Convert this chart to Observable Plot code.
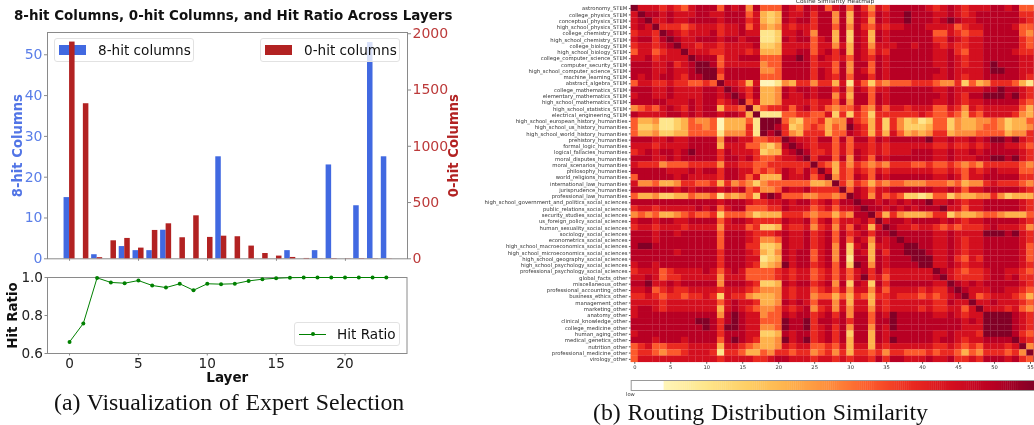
<!DOCTYPE html>
<html><head><meta charset="utf-8">
<script src="https://cdn.jsdelivr.net/npm/d3@7"></script>
<script src="https://cdn.jsdelivr.net/npm/@observablehq/plot@0.6"></script>
<style>
html,body{margin:0;padding:0;background:#fff;overflow:hidden;width:1034px;height:425px}
#root{position:relative;width:1034px;height:425px;overflow:hidden;font-family:"DejaVu Sans",sans-serif;filter:blur(0.3px)}
#root>svg,.abs{position:absolute}
#root svg{max-width:none;background:transparent}
.legend{position:absolute;background:rgba(255,255,255,.8);border:1px solid #e2e2e2;border-radius:3px;box-sizing:border-box;font-size:13.6px;color:#111}
.legend span{position:absolute;white-space:nowrap;line-height:16px}
.legend i{position:absolute;display:block}
.cap{position:absolute;font-family:"Liberation Serif",serif;font-size:23.8px;word-spacing:.8px;white-space:nowrap;color:#111;line-height:26px}
</style></head><body><div id="root"></div>
<script>
const layers = d3.range(0, 24);
const eightHit = [15,0,1,0,3,2,2,7,0,0,0,25,0,0,0,0,2,0,2,23,0,13,53,25];
const zeroHit = [1926,1378,10,160,181,95,252,311,187,382,190,201,196,113,47,24,12,3,1,2,1,2,1,1];
const hitRatio = [.661,.758,.998,.974,.970,.984,.958,.947,.967,.933,.967,.965,.967,.982,.991,.996,.999,1,1,1,1,1,1,1];
const xTicks = [0,5,10,15,20];

const tasks = ["astronomy_STEM","college_physics_STEM","conceptual_physics_STEM","high_school_physics_STEM","college_chemistry_STEM","high_school_chemistry_STEM","college_biology_STEM","high_school_biology_STEM","college_computer_science_STEM","computer_security_STEM","high_school_computer_science_STEM","machine_learning_STEM","abstract_algebra_STEM","college_mathematics_STEM","elementary_mathematics_STEM","high_school_mathematics_STEM","high_school_statistics_STEM","electrical_engineering_STEM","high_school_european_history_humanities","high_school_us_history_humanities","high_school_world_history_humanities","prehistory_humanities","formal_logic_humanities","logical_fallacies_humanities","moral_disputes_humanities","moral_scenarios_humanities","philosophy_humanities","world_religions_humanities","international_law_humanities","jurisprudence_humanities","professional_law_humanities","high_school_government_and_politics_social_sciences","public_relations_social_sciences","security_studies_social_sciences","us_foreign_policy_social_sciences","human_sexuality_social_sciences","sociology_social_sciences","econometrics_social_sciences","high_school_macroeconomics_social_sciences","high_school_microeconomics_social_sciences","high_school_geography_social_sciences","high_school_psychology_social_sciences","professional_psychology_social_sciences","global_facts_other","miscellaneous_other","professional_accounting_other","business_ethics_other","management_other","marketing_other","anatomy_other","clinical_knowledge_other","college_medicine_other","human_aging_other","medical_genetics_other","nutrition_other","professional_medicine_other","virology_other"];

// Similarity level (0 pale .. 9 dark) read per cell; upper triangle, each row starts at its diagonal.
const simRows = [
"9777676578 8858784855 5876878578 5864768888 8767876777 8878555",
"988787778 8778885732 3877868848 3875878898 8877876788 8888667",
"97787788 8878886732 3878868848 3874878898 8878987788 8888767",
"9666567 7767785743 4767768858 4865767788 8777756778 8887557",
"987677 7867787711 2778748838 2873878888 8855765668 8888547",
"98778 8878878811 2878857838 2873878888 8866876778 8888657",
"9776 7767777822 3777757747 3874777887 8876766778 8888657",
"977 7667776733 3778857868 3875768888 8877865778 8887667",
"98 8857788855 5889868767 5876878888 8877876778 8888777",
"9 9857777745 5888867758 4885878888 8877876778 9888777",
"9968888844 5888868758 4875878888 8887877778 9988777",
"958888855 5888868768 5886878888 8877876778 8888767",
"97763700 1436646637 1752545556 6654462534 6665316",
"9876833 4878878868 4875778888 8877877778 8988767",
"986833 4877878847 3885878888 8887876889 9989767",
"95733 4777767758 4885878888 8877876778 8888657",
"9356 6757867545 5754757767 7755764767 7777537",
"911 1556655726 2652666666 7655653657 7776436",
"99 9532556344 8653626423 1255243344 5423356",
"9 8623565354 9763626422 2355243345 5423347",
"9643666355 8763637534 3466344455 5534468",
"987768858 5886878888 8977877878 9989768",
"98767757 5776767777 7766766767 8877657",
"9866757 5876767778 8877877878 8888767",
"968858 4875878888 8877877788 9989767",
"96536 4654546665 5655654546 6666546",
"9736 5765767777 7766765767 8777557",
"946 5875878888 8877875778 8888667",
"96 4653545544 4555453446 7666546",
"9 5875778888 8877875778 8888767",
"9874756522 1255243344 6423336",
"988787878 8977876778 8888767",
"98878787 8889775778 8888767",
"9636433 3466243345 5433356",
"978878 8887876778 8888768",
"98776 7765656667 8777646",
"9888 8877877779 9989768",
"988 8877876778 8888768",
"99 8877876778 8888757",
"9 9877876778 8888757",
"9977865768 8888757",
"977876778 8888768",
"98765667 8877657",
"9766667 8878667",
"987878 8888768",
"98777 8877656",
"9756 7776536",
"977 8777657",
"97 7767546",
"9 9998768",
"9998768",
"998768",
"98657",
"9768",
"946",
"95",
"9"
];
const levels = d3.range(0, 10);
const levelColours = ["#fff5b8","#fee68c","#fecf66","#feb24c","#fd8d3c","#fc5a2c","#ea2a20","#d30f1f","#b80024","#820026"];
const barStops = d3.range(0, 9, 0.05);

const root = document.getElementById("root");
const BLUE = "#4169e1", RED = "#b22222", AXIS = "#8a8a8a";
const xDom = [-1.6, 24.5];
const topW = 470, topH = 272;
const colourScale = {type: "linear", domain: levels, range: levelColours};
const xAxisTop = Plot.axisX({ticks: xTicks, tickFormat: () => "", tickSize: 2.5, stroke: AXIS, label: null});

function html(cls, css, text) {
  const d = document.createElement("div");
  d.className = cls; d.style.cssText = css; if (text) d.textContent = text;
  root.append(d); return d;
}
function legend(left, top, w, h, label, textX, kind, colour) {
  const box = html("legend", `left:${left}px;top:${top}px;width:${w}px;height:${h}px`);
  if (kind === "patch") {
    box.innerHTML = `<i style="left:4px;top:6px;width:27px;height:10px;background:${colour}"></i>`;
  } else {
    box.innerHTML = `<i style="left:4px;top:10.5px;width:27px;height:1px;background:${colour}"></i><i style="left:15.5px;top:9px;width:4px;height:4px;border-radius:50%;background:${colour}"></i>`;
  }
  const s = document.createElement("span"); s.textContent = label;
  s.style.cssText = `left:${textX}px;top:3px`; box.append(s);
}

// Top panel, left scale: blue bars
root.append(Plot.plot({
  width: topW, height: topH, marginLeft: 47, marginRight: topW - 407, marginTop: 32, marginBottom: topH - 258.3,
  x: {domain: xDom, axis: null}, y: {domain: [0, 55.46], axis: null},
  style: {fontFamily: "DejaVu Sans", overflow: "visible"},
  marks: [
    Plot.rectY(layers, {x1: d => d - 0.4, x2: d => d, y1: 0, y2: d => eightHit[d], fill: BLUE}),
    xAxisTop,
    Plot.axisY({ticks: [0,10,20,30,40,50], tickSize: 3, stroke: AXIS, fill: "#5a7ee8", fontSize: 14, tickPadding: 2, label: null}),
    Plot.text(["8-hit Columns"], {frameAnchor: "left", textAnchor: "middle", rotate: -90, dx: -30, fontWeight: "bold", fontSize: 13.2, fill: "#5275e6"}),
    Plot.frame({stroke: AXIS})
  ]
}));
legend(54, 38, 140, 24, "8-hit columns", 43, "patch", BLUE);

// Top panel, right scale: red bars
root.append(Plot.plot({
  width: topW, height: topH, marginLeft: 47, marginRight: topW - 407, marginTop: 32, marginBottom: topH - 258.3,
  x: {domain: xDom, axis: null}, y: {domain: [0, 2011], axis: null},
  style: {fontFamily: "DejaVu Sans", overflow: "visible", background: "transparent"},
  marks: [
    Plot.rectY(layers, {x1: d => d, x2: d => d + 0.4, y1: 0, y2: d => zeroHit[d], fill: RED}),
    Plot.axisY({anchor: "right", ticks: [0,500,1000,1500,2000], tickFormat: "d", tickSize: 3, stroke: AXIS, fill: "#bc3a3a", fontSize: 14, tickPadding: 2, label: null}),
    Plot.text(["0-hit Columns"], {frameAnchor: "right", textAnchor: "middle", rotate: -90, dx: 46, fontWeight: "bold", fontSize: 13.2, fill: RED})
  ]
}));
legend(260, 38, 140, 24, "0-hit columns", 43, "patch", RED);

// Bottom panel: hit ratio
const hit = Plot.plot({
  width: topW, height: 395 - 270, marginLeft: 47, marginRight: topW - 406.5, marginTop: 7, marginBottom: 395 - 353,
  x: {domain: xDom, axis: null}, y: {domain: [0.6, 1.0], axis: null},
  style: {fontFamily: "DejaVu Sans", overflow: "visible"},
  marks: [
    Plot.frame({stroke: AXIS}),
    Plot.lineY(hitRatio, {x: (d, i) => layers[i], y: d => d, stroke: "green", strokeWidth: 1, clip: false}),
    Plot.dot(hitRatio, {x: (d, i) => layers[i], y: d => d, fill: "green", r: 2}),
    Plot.axisX({ticks: xTicks, tickSize: 2.5, stroke: AXIS, fill: "#222", fontSize: 13.6, tickPadding: 2, label: null}),
    Plot.axisY({ticks: [0.6,0.8,1.0], tickFormat: ".1f", tickSize: 2.5, stroke: AXIS, fill: "#222", fontSize: 13.6, tickPadding: 2, label: null}),
    Plot.text(["Hit Ratio"], {frameAnchor: "left", textAnchor: "middle", rotate: -90, dx: -35, fontWeight: "bold", fontSize: 13.4, fill: "#111"}),
    Plot.text(["Layer"], {frameAnchor: "bottom", dy: 28, fontWeight: "bold", fontSize: 13.5, fill: "#111"})
  ]
});
hit.style.top = "270px"; hit.style.left = "0";
root.append(hit);
legend(294, 322, 106, 24, "Hit Ratio", 42, "line", "green");

html("abs", "left:14px;top:8px;font-weight:bold;font-size:13.45px;white-space:nowrap;color:#111;line-height:16px", "8-hit Columns, 0-hit Columns, and Hit Ratio Across Layers");
html("cap", "left:54px;top:389px", "(a) Visualization of Expert Selection");
html("cap", "left:593px;top:399px", "(b) Routing Distribution Similarity");

// Heatmap
const cells = [];
simRows.forEach((row, r) => {
  const s = row.replace(/ /g, "");
  for (let c = r; c < tasks.length; c++) {
    const v = +(s[c - r] ?? 7);
    cells.push({r, c, v});
    if (c !== r) cells.push({r: c, c: r, v});
  }
});
const cw = 7.195, rh = 6.263, mx = 630.7, my = 5;
const heat = Plot.plot({
  width: mx + 57 * cw, height: my + 57 * rh + 20,
  marginLeft: mx, marginRight: 0, marginTop: my, marginBottom: 20,
  x: {domain: d3.range(57), axis: null, padding: 0, round: false},
  y: {domain: tasks, axis: null, padding: 0, round: false},
  color: colourScale,
  style: {fontFamily: "DejaVu Sans", overflow: "visible", background: "transparent"},
  marks: [
    Plot.cell(cells, {x: "c", y: d => tasks[d.r], fill: "v", inset: -0.1}),
    Plot.axisY({tickSize: 1.8, tickPadding: 2, fontSize: 5.3, stroke: "#555", fill: "#333", label: null}),
    Plot.axisX({ticks: d3.range(0, 56, 5), tickSize: 1.8, tickPadding: 1, fontSize: 5.2, stroke: "#555", fill: "#333", label: null})
  ]
});
heat.style.left = "0"; heat.style.top = "0";
root.append(heat);
html("abs", "left:735px;top:-3px;width:200px;text-align:center;font-size:5.9px;color:#333;line-height:8px", "Cosine Similarity Heatmap");

// Colour bar
const bar = Plot.plot({
  width: 1034 - 600, height: 12,
  marginLeft: 30.7, marginRight: 0, marginTop: 1, marginBottom: 1,
  x: {domain: [-0.8, 9], axis: null}, y: {axis: null},
  color: colourScale,
  style: {overflow: "visible", background: "transparent"},
  marks: [
    Plot.rect(barStops, {x1: d => d, x2: d => d + 0.06, fill: d => d}),
    Plot.frame({stroke: "#999"})
  ]
});
bar.style.left = "600px"; bar.style.top = "379px";
root.append(bar);
html("abs", "left:626px;top:391px;font-size:5.2px;color:#333;line-height:7px", "low");
</script></body></html>
